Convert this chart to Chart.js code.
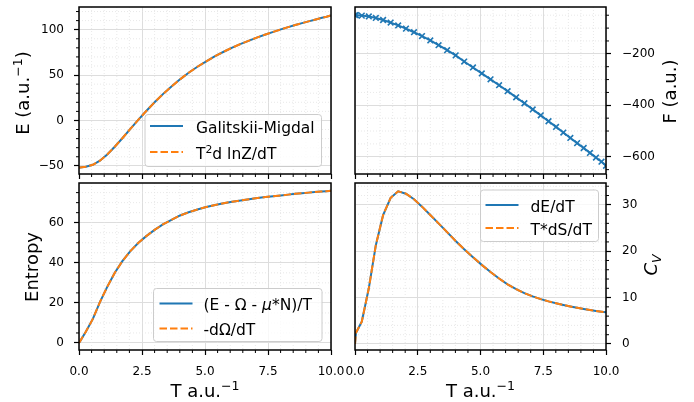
<!DOCTYPE html>
<html>
<head>
<meta charset="utf-8">
<script src="https://cdn.jsdelivr.net/npm/chart.js@4.4.0/dist/chart.umd.min.js"></script>
<style>
  html, body { margin: 0; padding: 0; background: #fff; }
  #fig { position: relative; width: 694px; height: 402px; overflow: hidden; }
  #fig canvas { position: absolute; }
</style>
</head>
<body>
<div id="fig">
  <canvas id="energy"></canvas>
  <canvas id="free"></canvas>
  <canvas id="entropy"></canvas>
  <canvas id="cv"></canvas>
</div>
<script>
// temperature grid (a.u.^-1)
const temps = [0, 0.04, 0.27, 0.55, 0.83, 1.12, 1.42, 1.72, 2.03, 2.35, 2.67, 3.0, 3.33, 3.67,
  4.01, 4.35, 4.7, 5.05, 5.4, 5.74, 6.08, 6.42, 6.75, 7.08, 7.4, 7.71, 8.01, 8.3, 8.58, 8.85,
  9.11, 9.36, 9.6, 9.82, 10.0];

const energyGM = [-51.9, -51.85, -51.0, -48.8, -44.3, -37.5, -29.0, -19.6, -9.6, 0.6, 10.4, 20.0,
  29.0, 37.5, 45.3, 52.5, 59.2, 65.2, 70.8, 75.7, 80.2, 84.3, 88.0, 91.5, 94.7, 97.6, 100.3,
  102.8, 105.1, 107.2, 109.2, 111.0, 112.8, 114.3, 115.8];
const energyLnZ = [-51.9, -51.85, -51.0, -48.8, -44.3, -37.5, -29.0, -19.6, -9.6, 0.6, 10.4, 20.0,
  29.0, 37.5, 45.3, 52.5, 59.2, 65.2, 70.8, 75.7, 80.2, 84.3, 88.0, 91.5, 94.7, 97.6, 100.3,
  102.8, 105.1, 107.2, 109.2, 111.0, 112.8, 114.3, 115.8];

const freeEnergy = [-49.5, -49.6, -51.5, -54.5, -60.5, -68.5, -78.5, -89.5, -102, -116, -131, -148,
  -166.5, -186, -206, -230, -253, -276, -299, -322, -345, -369, -392, -416, -439, -462, -484,
  -506, -527, -547, -566, -585, -603, -619, -635];

const entropyThermo = [0, 0.8, 5.6, 12.0, 20.4, 28.0, 35.0, 40.8, 45.7, 49.9, 53.3, 56.4, 59.2,
  61.4, 63.6, 65.2, 66.6, 67.8, 68.8, 69.7, 70.5, 71.1, 71.7, 72.3, 72.8, 73.2, 73.6, 74.0,
  74.4, 74.7, 75.0, 75.3, 75.5, 75.7, 75.9];
const entropyOmega = [0, 0.8, 5.6, 12.0, 20.4, 28.0, 35.0, 40.8, 45.7, 49.9, 53.3, 56.4, 59.2,
  61.4, 63.6, 65.2, 66.6, 67.8, 68.8, 69.7, 70.5, 71.1, 71.7, 72.3, 72.8, 73.2, 73.6, 74.0,
  74.4, 74.7, 75.0, 75.3, 75.5, 75.7, 75.9];

const cvDEdT = [0, 2.4, 4.8, 12.0, 21.3, 27.8, 31.5, 32.9, 32.4, 31.2, 29.6, 27.8, 26.0, 24.1,
  22.2, 20.4, 18.7, 17.05, 15.5, 14.1, 12.85, 11.8, 10.95, 10.25, 9.67, 9.18, 8.77, 8.41, 8.08,
  7.79, 7.54, 7.32, 7.13, 6.97, 6.85];
const cvTdSdT = [0, 2.4, 4.8, 12.0, 21.3, 27.8, 31.5, 32.9, 32.4, 31.2, 29.6, 27.8, 26.0, 24.1,
  22.2, 20.4, 18.7, 17.05, 15.5, 14.1, 12.85, 11.8, 10.95, 10.25, 9.67, 9.18, 8.77, 8.41, 8.08,
  7.79, 7.54, 7.32, 7.13, 6.97, 6.85];

const tTicks = [0, 2.5, 5, 7.5, 10];
const eTicks = [-50, 0, 50, 100];
const fTicks = [-600, -400, -200];
const sTicks = [0, 20, 40, 60];
const cvTicks = [0, 10, 20, 30];

const BLUE = '#1f77b4';
const ORANGE = '#ff7f0e';
const DASH = [7.5, 3];
const FONT = 'DejaVu Sans';

const pts = arr => temps.map((t, i) => ({ x: t, y: arr[i] }));
const fmtY = v => (v < 0 ? '\u2212' + Math.abs(v) : String(v));

function solid(label, arr) {
  return { label, data: pts(arr), borderColor: BLUE, borderWidth: 2, pointRadius: 0, tension: 0, order: 2 };
}
function dashed(label, arr) {
  return { label, data: pts(arr), borderColor: ORANGE, borderWidth: 2, borderDash: DASH, pointRadius: 0, tension: 0, order: 1 };
}

// text with super/subscripts
function fontOf(r, size) {
  return (r.it ? 'italic ' : '') + (size * (r.s || 1)).toFixed(1) + 'px "' + FONT + '"';
}
function drawRuns(ctx, runs, x, y, size, align) {
  let w = 0;
  runs.forEach(r => { ctx.font = fontOf(r, size); r.w = ctx.measureText(r.t).width; w += r.w; });
  let cx = align === 'center' ? x - w / 2 : x;
  ctx.textAlign = 'left';
  ctx.textBaseline = 'alphabetic';
  runs.forEach(r => {
    ctx.font = fontOf(r, size);
    ctx.fillText(r.t, cx, y + (r.dy || 0) * size);
    cx += r.w;
  });
}
const SUP = { s: 0.7, dy: -0.38 };

function minorValues(scale, step, majors) {
  const out = [];
  for (let k = Math.ceil(scale.min / step - 1e-9); k * step <= scale.max + 1e-9; k++) {
    const v = k * step;
    if (!majors.some(m => Math.abs(m - v) < 1e-9)) out.push(v);
  }
  return out;
}

function decor(cfg, box) {
  const ox = box[0], oy = box[1];
  return {
    id: 'decor',
    beforeDatasetsDraw(chart) {
      const { ctx, chartArea: a, scales: { x, y } } = chart;
      ctx.save();
      ctx.strokeStyle = '#e2e2e2';
      ctx.lineWidth = 0.8;
      ctx.setLineDash([1, 2]);
      ctx.beginPath();
      minorValues(x, 0.5, tTicks).forEach(v => {
        const px = x.getPixelForValue(v);
        ctx.moveTo(px, a.top); ctx.lineTo(px, a.bottom);
      });
      minorValues(y, cfg.yMinor, cfg.yTicks).forEach(v => {
        const py = y.getPixelForValue(v);
        ctx.moveTo(a.left, py); ctx.lineTo(a.right, py);
      });
      ctx.stroke();
      ctx.restore();
    },
    afterDraw(chart) {
      const { ctx, chartArea: a, scales: { x, y } } = chart;
      ctx.save();
      // minor ticks
      ctx.strokeStyle = '#000';
      ctx.lineWidth = 1;
      ctx.beginPath();
      minorValues(x, 0.5, tTicks).forEach(v => {
        const px = x.getPixelForValue(v);
        ctx.moveTo(px, a.bottom); ctx.lineTo(px, a.bottom + 3);
      });
      minorValues(y, cfg.yMinor, cfg.yTicks).forEach(v => {
        const py = y.getPixelForValue(v);
        if (cfg.yRight) { ctx.moveTo(a.right, py); ctx.lineTo(a.right + 3, py); }
        else { ctx.moveTo(a.left - 3, py); ctx.lineTo(a.left, py); }
      });
      ctx.stroke();
      // frame
      ctx.lineWidth = 1.5;
      ctx.strokeRect(a.left, a.top, a.right - a.left, a.bottom - a.top);

      // legend
      const lg = cfg.legend;
      if (lg) {
        const bx = lg.box[0] - ox, by = lg.box[1] - oy;
        ctx.beginPath();
        ctx.roundRect(bx, by, lg.box[2] - lg.box[0], lg.box[3] - lg.box[1], 3);
        ctx.fillStyle = 'rgba(255,255,255,0.8)';
        ctx.fill();
        ctx.strokeStyle = '#cccccc';
        ctx.lineWidth = 1;
        ctx.stroke();
        lg.rows.forEach(r => {
          const ry = r.y - oy;
          ctx.strokeStyle = r.color;
          ctx.lineWidth = 2;
          ctx.setLineDash(r.dash || []);
          ctx.beginPath();
          ctx.moveTo(lg.hx[0] - ox, ry); ctx.lineTo(lg.hx[1] - ox, ry);
          ctx.stroke();
          ctx.setLineDash([]);
          ctx.fillStyle = '#000';
          drawRuns(ctx, r.text, lg.tx - ox, ry + 6.5, 15.5, 'left');
        });
      }

      // axis titles
      ctx.fillStyle = '#000';
      const yt = cfg.yTitle;
      ctx.save();
      ctx.translate(yt.base - ox, yt.cy - oy);
      ctx.rotate(-Math.PI / 2);
      drawRuns(ctx, yt.runs, 0, 0, 18, 'center');
      ctx.restore();
      if (cfg.xTitle) {
        drawRuns(ctx, cfg.xTitle.runs, cfg.xTitle.cx - ox, cfg.xTitle.base - oy, 18, 'center');
      }
      ctx.restore();
    }
  };
}

function panel(id, box, area, cfg) {
  const cv = document.getElementById(id);
  cv.width = box[2];
  cv.height = box[3];
  cv.style.left = box[0] + 'px';
  cv.style.top = box[1] + 'px';
  const L = area[0] - box[0], T = area[1] - box[1], R = area[2] - box[0], B = area[3] - box[1];
  const tickFont = { family: FONT, size: 12 };
  const grid = { color: '#dddddd', lineWidth: 1, drawTicks: true, tickLength: 5, tickColor: '#000', tickWidth: 1.2 };

  new Chart(cv, {
    type: 'line',
    data: { datasets: cfg.datasets },
    options: {
      responsive: false,
      animation: false,
      events: [],
      layout: { padding: { top: T, left: cfg.yRight ? L : 0, right: cfg.yRight ? 0 : box[2] - R, bottom: 0 } },
      plugins: { legend: { display: false }, tooltip: { enabled: false } },
      scales: {
        x: {
          type: 'linear', position: 'bottom', min: 0, max: 10,
          afterBuildTicks: s => { s.ticks = tTicks.map(v => ({ value: v })); },
          afterFit: s => { s.height = box[3] - B; s.paddingLeft = 0; s.paddingRight = 0; },
          grid, border: { display: false },
          ticks: { display: cfg.xLabels, font: tickFont, color: '#000', padding: 10, maxRotation: 0, autoSkip: false,
                   callback: v => v.toFixed(1) }
        },
        y: {
          type: 'linear', position: cfg.yRight ? 'right' : 'left', min: cfg.yMin, max: cfg.yMax,
          afterBuildTicks: s => { s.ticks = cfg.yTicks.map(v => ({ value: v })); },
          afterFit: s => { s.width = cfg.yRight ? box[2] - R : L; s.paddingTop = 0; s.paddingBottom = 0; },
          grid, border: { display: false },
          ticks: { font: tickFont, color: '#000', padding: cfg.yRight ? 11 : 10, autoSkip: false, callback: fmtY }
        }
      }
    },
    plugins: [decor(cfg, box)]
  });
}

panel('energy', [0, 0, 347, 180], [79, 7, 331, 174], {
  datasets: [solid('Galitskii-Migdal', energyGM), dashed('T2d lnZ/dT', energyLnZ)],
  yMin: -59, yMax: 125, yTicks: eTicks, yMinor: 10, xLabels: false,
  yTitle: { base: 28.5, cy: 93, runs: [{ t: 'E (a.u.' }, { t: '\u22121', ...SUP }, { t: ')' }] },
  legend: {
    box: [145, 114.5, 321.5, 166.5], hx: [150, 183], tx: 196,
    rows: [
      { y: 126, color: BLUE, text: [{ t: 'Galitskii-Migdal' }] },
      { y: 152, color: ORANGE, dash: DASH, text: [{ t: 'T' }, { t: '2', ...SUP }, { t: 'd lnZ/dT' }] }
    ]
  }
});

panel('free', [340, 0, 354, 180], [355, 7, 606, 174], {
  datasets: [{
    label: 'F', data: pts(freeEnergy), borderColor: BLUE, borderWidth: 2, tension: 0,
    pointStyle: 'crossRot', pointRadius: 4, pointBorderWidth: 1.6, pointBorderColor: BLUE, pointBackgroundColor: BLUE
  }],
  yMin: -667, yMax: -18, yTicks: fTicks, yMinor: 50, yRight: true, xLabels: false,
  yTitle: { base: 676, cy: 91.5, runs: [{ t: 'F (a.u.)' }] }
});

panel('entropy', [0, 178, 347, 224], [79, 183, 331, 350], {
  datasets: [solid('(E - \u03a9 - \u03bc*N)/T', entropyThermo), dashed('-d\u03a9/dT', entropyOmega)],
  yMin: -3.5, yMax: 79.8, yTicks: sTicks, yMinor: 5, xLabels: true,
  yTitle: { base: 38, cy: 267, runs: [{ t: 'Entropy' }] },
  xTitle: { cx: 205, base: 397, runs: [{ t: 'T a.u.' }, { t: '\u22121', ...SUP }] },
  legend: {
    box: [153.5, 288.5, 322, 341.5], hx: [159.5, 192.5], tx: 203.5,
    rows: [
      { y: 303.5, color: BLUE, text: [{ t: '(E - \u03a9 - ' }, { t: '\u03bc', it: true }, { t: '*N)/T' }] },
      { y: 328.5, color: ORANGE, dash: DASH, text: [{ t: '-d\u03a9/dT' }] }
    ]
  }
});

panel('cv', [340, 178, 354, 224], [355, 183, 606, 350], {
  datasets: [solid('dE/dT', cvDEdT), dashed('T*dS/dT', cvTdSdT)],
  yMin: -1.3, yMax: 34.7, yTicks: cvTicks, yMinor: 2, yRight: true, xLabels: true,
  yTitle: { base: 657, cy: 265, runs: [{ t: 'C', it: true }, { t: 'V', it: true, s: 0.7, dy: 0.2 }] },
  xTitle: { cx: 480.5, base: 397, runs: [{ t: 'T a.u.' }, { t: '\u22121', ...SUP }] },
  legend: {
    box: [480.5, 190, 598.5, 241.5], hx: [485.5, 518.5], tx: 530.5,
    rows: [
      { y: 205, color: BLUE, text: [{ t: 'dE/dT' }] },
      { y: 228, color: ORANGE, dash: DASH, text: [{ t: 'T*dS/dT' }] }
    ]
  }
});
</script>
</body>
</html>
